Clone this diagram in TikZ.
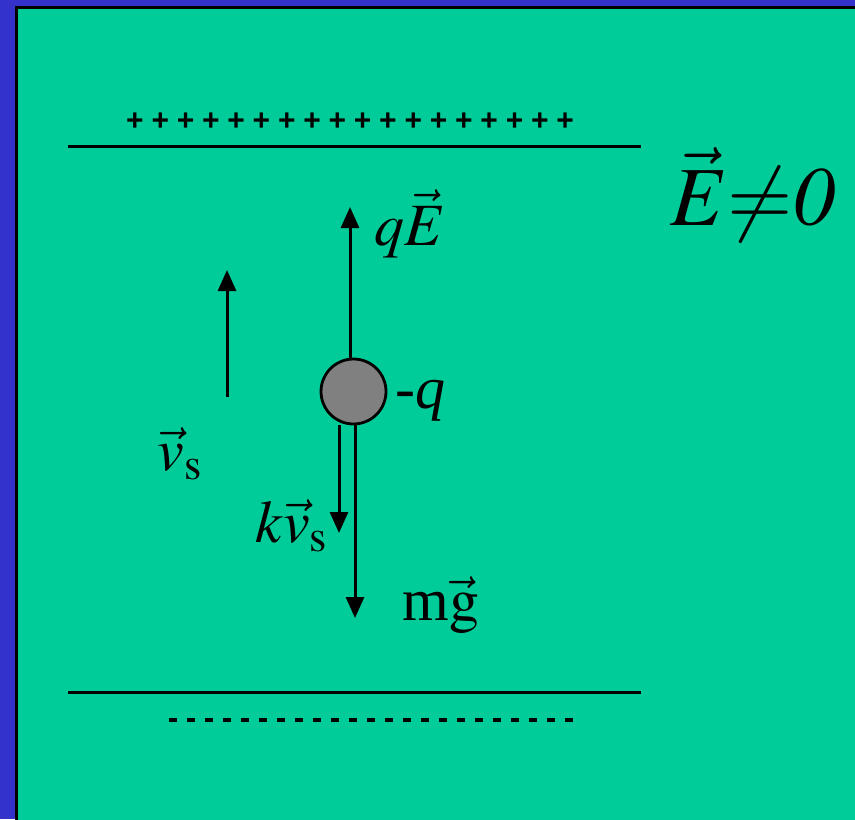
\documentclass[tikz,border=0pt]{standalone}
\usepackage{mathptmx}
\usepackage{fontspec}
\setmainfont{Liberation Serif}
\newfontfamily\plusfont{Liberation Sans}
\usepackage{xcolor}
\usetikzlibrary{arrows.meta,positioning,calc}

\definecolor{slideblue}{RGB}{51,51,204}
\definecolor{slidegreen}{RGB}{0,204,153}
\definecolor{ballgray}{RGB}{128,128,128}

\begin{document}
\begin{tikzpicture}[x=0.5pt, y=-0.5pt,
  plate/.style={line width=1.5pt},
  force/.style={line width=1.5pt, -{Triangle[length=10.5pt, width=9pt]}},
  lbl/.style={inner sep=0pt, font=\fontsize{30}{30}\selectfont},
  charge/.style={inner sep=0pt, font=\plusfont\bfseries\fontsize{15}{15}\selectfont}]
  \useasboundingbox (0,0) rectangle (855,819);
  \clip (0,0) rectangle (855,819);
  \fill[slideblue] (0,0) rectangle (855,819);
  \filldraw[fill=slidegreen, draw=black, line width=1.5pt] (16,7.5) rectangle (900,900);

  % plates
  \coordinate (topL) at (68,146);
  \coordinate (topR) at (641,146);
  \coordinate (botL) at (68,692);
  \coordinate (botR) at (641,692);
  \draw[plate] (topL) -- (topR);
  \draw[plate] (botL) -- (botR);
  \foreach \i in {0,...,17}
    \node[charge] (plus\i) at (135+25.3*\i,122) {+};
  \coordinate (minL) at (169,720);
  \coordinate (minR) at (574,720);
  \draw[line width=2pt, dash pattern=on 4pt off 5pt] (minL) -- (minR);

  % field
  \node[inner sep=0pt, anchor=base west, font=\fontsize{42}{42}\selectfont] (field) at (670,225) {$\vec{E}{\neq}\mathit{0}$};

  % drop and forces
  \node[draw, circle, fill=ballgray, line width=1.4pt, inner sep=0pt, minimum size=32.5pt] (ball) at (353.5,391.5) {};
  \coordinate (qEtip) at (350,207);
  \coordinate (kvtip) at (339,533);
  \coordinate (mgtip) at (355,618);
  \draw[force] (qEtip |- ball.north) -- (qEtip);
  \draw[force] (kvtip |- ball.south) -- (kvtip);
  \draw[force] (mgtip |- ball.south) -- (mgtip);
  \node[lbl, anchor=base west] (qE) at (374,245) {$q\vec{E}$};
  \node[lbl, anchor=base west] (chg) at (395,408) {-\textit{q}};
  \node[lbl, anchor=base west] (kv) at (255,542) {$k\vec{v}_{\mathrm{s}}$};
  \node[lbl, anchor=base west] (mg) at (402,620) {m$\vec{\mathrm{g}}$};

  % velocity
  \coordinate (vstail) at (227,397);
  \coordinate (vstip) at (227,270);
  \draw[force] (vstail) -- (vstip);
  \node[lbl, anchor=base west] (vs) at (157,470) {$\vec{v}_{\mathrm{s}}$};
\end{tikzpicture}
\end{document}
